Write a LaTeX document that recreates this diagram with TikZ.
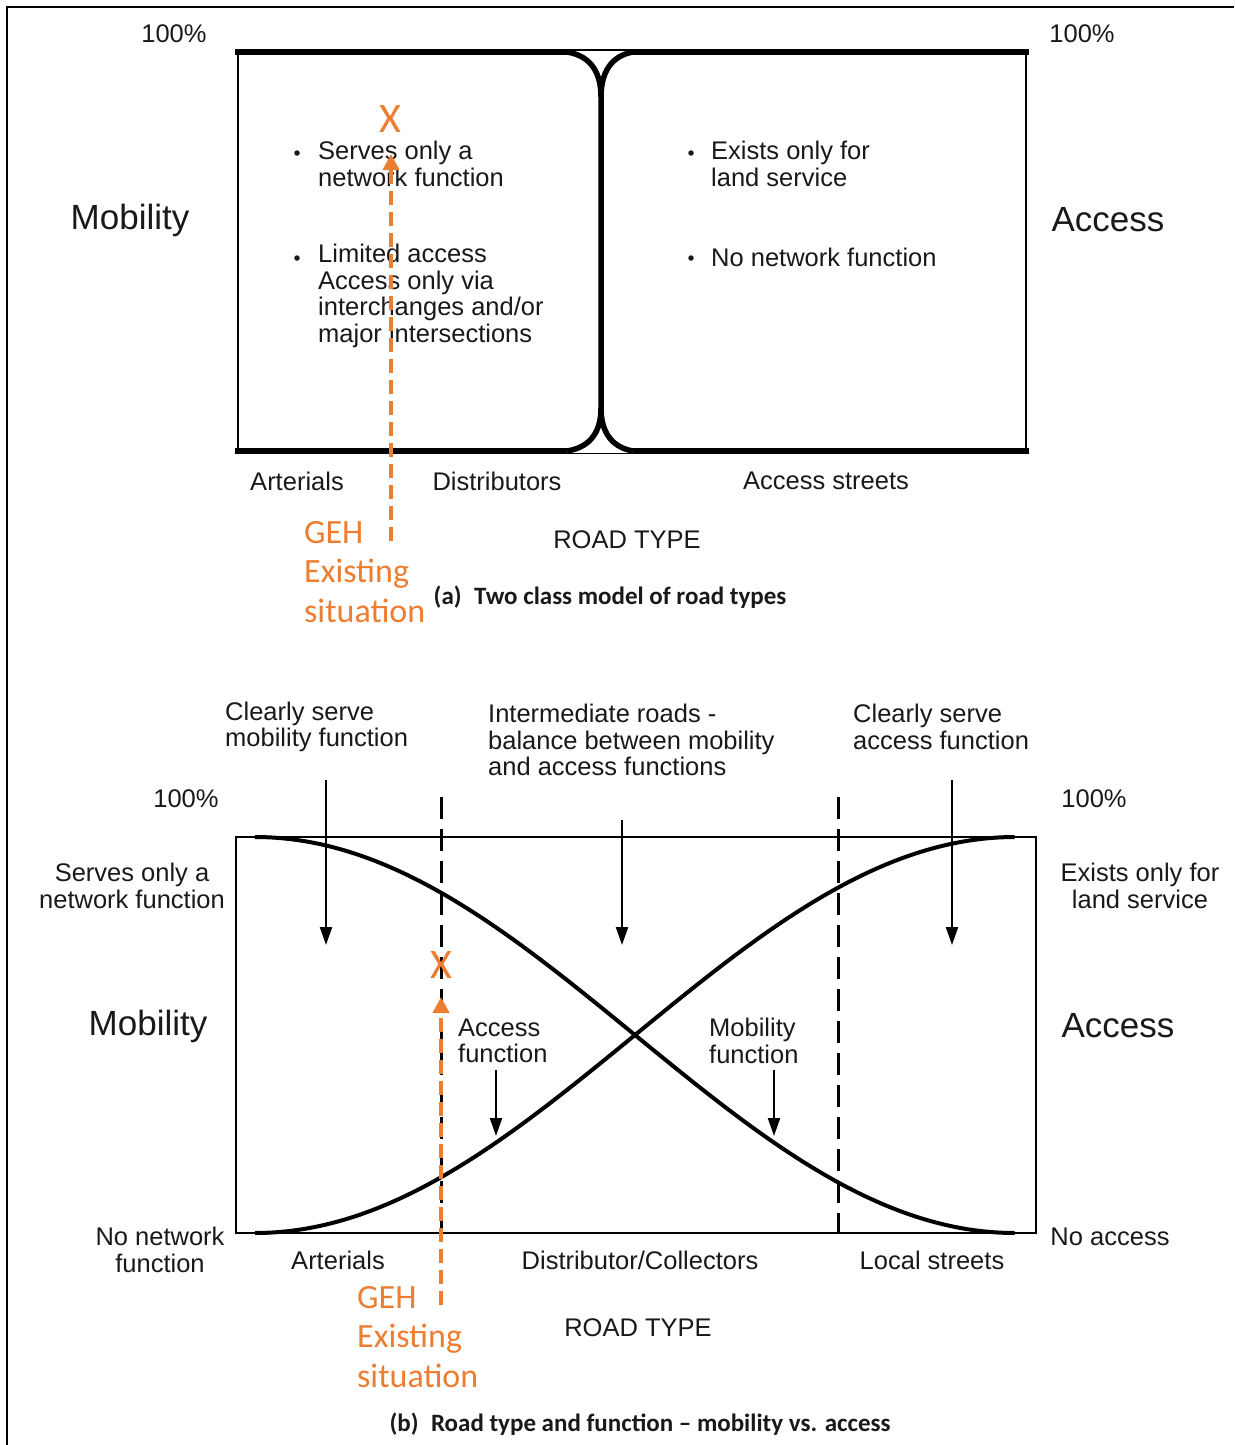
\documentclass[tikz,border=0pt]{standalone}
\usepackage{fontspec}
\setmainfont{Liberation Sans}
\newfontfamily\calfont{Carlito}
\usetikzlibrary{arrows.meta}
\definecolor{geh}{RGB}{237,125,49}
\definecolor{ink}{RGB}{25,25,25}
\begin{document}
\begin{tikzpicture}[x=1pt,y=-1pt,
  txt/.style={font=\fontsize{25.5}{26.5}\selectfont, inner sep=0pt, align=left, text=ink},
  ctxt/.style={txt, align=center},
  big/.style={font=\fontsize{35}{40}\selectfont, inner sep=0pt, text=ink},
  ora/.style={font=\calfont\fontsize{34}{39.5}\selectfont, text=geh, inner sep=0pt, align=left},
  xmark/.style={font=\calfont\fontsize{42}{42}\selectfont, text=geh, inner sep=0pt},
  capt/.style={font=\calfont\bfseries\fontsize{25}{28}\selectfont, inner sep=0pt, text=ink},
  bul/.style={circle, fill=ink, inner sep=0pt, minimum size=5.5pt},
  thickln/.style={line width=6.5pt},
  thinln/.style={line width=2.5pt},
  curveln/.style={line width=4pt},
  arr/.style={line width=2.2pt, -{Triangle[length=18pt,width=12pt]}},
  garr/.style={geh, line width=4pt, dash pattern=on 14pt off 7pt, -{Triangle[length=16pt,width=16pt]}},
  vdash/.style={line width=3pt, dash pattern=on 22pt off 10pt}]
\useasboundingbox (0,0) rectangle (1234,1445);
% outer frame
\draw[line width=2pt] (7,1445) -- (7,7) -- (1234,7);

% ===================== (a) =====================
\draw[thinln] (238,52) -- (238,452);
\draw[thinln] (1026,52) -- (1026,452);
\draw[thickln] (235,52) -- (567,52);
\draw[thickln] (633,52) -- (1029,52);
\draw[thickln] (235,451) -- (567,451);
\draw[thickln] (633,451) -- (1029,451);
\draw[line width=1.5pt] (567,50) -- (633,50);
\draw[line width=1.5pt] (567,453.5) -- (633,453.5);
\draw[line width=5.5pt] (567,52) .. controls (592,56) and (601,74) .. (601,97) -- (601,408) .. controls (601,430) and (592,447) .. (567,451);
\draw[line width=5.5pt] (633,52) .. controls (610,56) and (601,74) .. (601,97);
\draw[line width=5.5pt] (633,451) .. controls (610,447) and (601,430) .. (601,408);

\node[txt] (pa1) at (174,34) {100\%};
\node[txt] (pa2) at (1082,34) {100\%};
\node[big] (mobA) at (130,220) {Mobility};
\node[big] (accA) at (1108,220) {Access};

\node[bul] (ba1) at (297,153) {};
\node[txt, anchor=west] (ta1) at (318,164) {Serves only a\\network function};
\node[bul] (ba2) at (297,258) {};
\node[txt, anchor=west] (ta2) at (318,296) {Limited access\\Access only via\\interchanges and/or\\major intersections};
\node[bul] (ba3) at (691,153) {};
\node[txt, anchor=west] (ta3) at (711,164) {Exists only for\\land service};
\node[bul] (ba4) at (691,258) {};
\node[txt, anchor=west] (ta4) at (711,257) {No network function};

\node[txt] (arta) at (297,481) {Arterials};
\node[txt] (dista) at (497,481) {Distributors};
\node[txt] (acsa) at (826,481) {Access streets};
\node[txt] (rta) at (627,540) {ROAD TYPE};
\node[capt] (capa) at (610,597) {(a)\enspace Two class model of road types};

\node[xmark] (xa) at (390,119) {X};
\coordinate (ga0) at (391,541);
\coordinate (ga1) at (391,154);
\draw[garr] (ga0) -- (ga1);
\node[ora, anchor=west] (geha) at (304,572) {GEH\\Existing\\situation};

% ===================== (b) =====================
\draw[thinln] (236,837) -- (1036,837) -- (1036,1233) -- (236,1233) -- cycle;
\coordinate (d1t) at (441,797);
\coordinate (d1b) at (441,1233);
\coordinate (d2t) at (838,797);
\coordinate (d2b) at (838,1233);
\draw[vdash] (d1t) -- (d1b);
\draw[vdash] (d2t) -- (d2b);
\draw[curveln] plot[domain=0:1, samples=90, smooth] ({255+760*\x},{837+198*(1-cos(180*\x))});
\draw[curveln] plot[domain=0:1, samples=90, smooth] ({255+760*\x},{1233-198*(1-cos(180*\x))});

\node[txt, anchor=west] (clm) at (225,727) {Clearly serve\\mobility function};
\node[txt, anchor=west] (imr) at (488,740) {Intermediate roads -\\balance between mobility\\and access functions};
\node[txt, anchor=west] (cla) at (853,727) {Clearly serve\\access function};
\coordinate (a1s) at (326,780);
\coordinate (a1e) at (326,945);
\coordinate (a2s) at (622,820);
\coordinate (a2e) at (622,945);
\coordinate (a3s) at (952,780);
\coordinate (a3e) at (952,945);
\draw[arr] (a1s) -- (a1e);
\draw[arr] (a2s) -- (a2e);
\draw[arr] (a3s) -- (a3e);

\node[txt] (pb1) at (186,799) {100\%};
\node[txt] (pb2) at (1094,799) {100\%};
\node[ctxt] (snf) at (132,886) {Serves only a\\network function};
\node[ctxt] (els) at (1140,886) {Exists only for\\land service};
\node[big] (mobB) at (148,1026) {Mobility};
\node[big] (accB) at (1118,1026) {Access};
\node[ctxt] (nnf) at (160,1250) {No network\\function};
\node[txt] (nac) at (1110,1237) {No access};

\node[txt, anchor=west] (acf) at (458,1041) {Access\\function};
\node[txt, anchor=west] (mof) at (709,1041) {Mobility\\function};
\coordinate (a4s) at (496,1070);
\coordinate (a4e) at (496,1136);
\coordinate (a5s) at (774,1070);
\coordinate (a5e) at (774,1136);
\draw[arr] (a4s) -- (a4e);
\draw[arr] (a5s) -- (a5e);

\node[txt] (artb) at (338,1260) {Arterials};
\node[txt] (distb) at (640,1260) {Distributor/Collectors};
\node[txt] (locb) at (932,1260) {Local streets};
\node[txt] (rtb) at (638,1328) {ROAD TYPE};
\node[capt] (capb) at (640,1424) {(b)\enspace Road type and function \textendash{} mobility vs. access};

\node[xmark] (xb) at (441,965) {X};
\coordinate (gb0) at (441,1305);
\coordinate (gb1) at (441,997);
\draw[garr] (gb0) -- (gb1);
\node[ora, anchor=west] (gehb) at (357,1337) {GEH\\Existing\\situation};
\end{tikzpicture}
\end{document}
